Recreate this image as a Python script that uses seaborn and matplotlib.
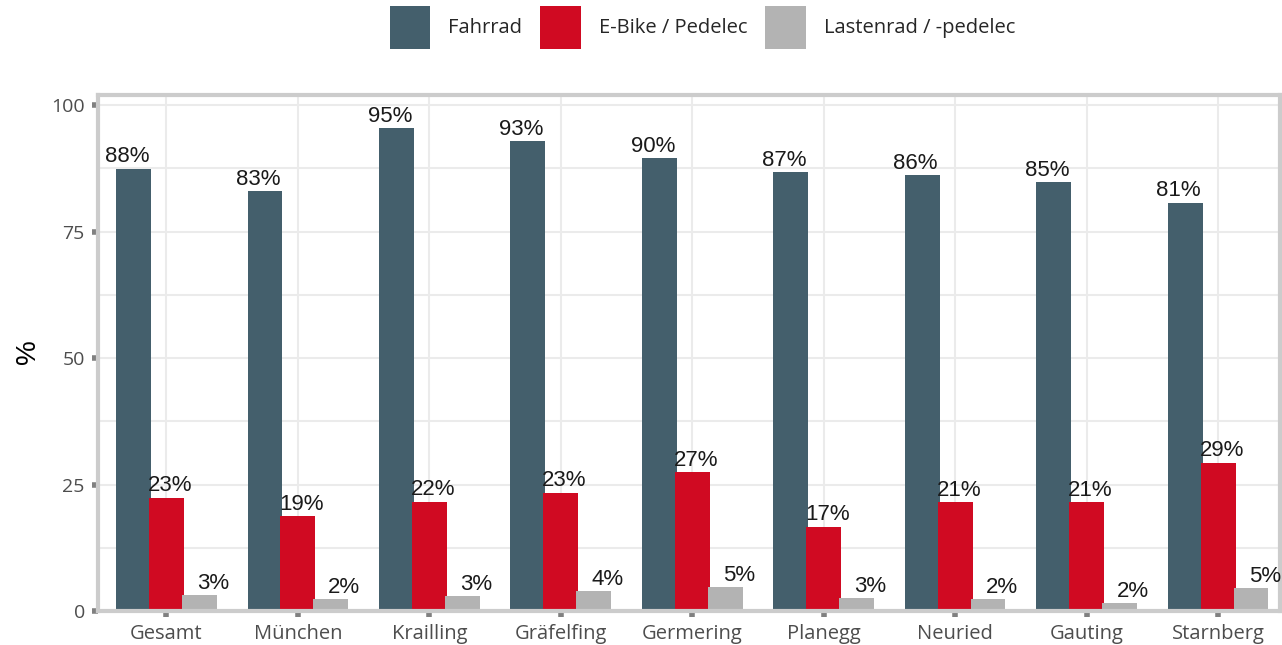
#!/usr/bin/env python3
# -*- coding: utf-8 -*-
"""Anteil der Radtypen je Ort - gruppiertes Balkendiagramm."""

import pandas as pd
import matplotlib
matplotlib.use('Agg')
import matplotlib.pyplot as plt
from matplotlib.patches import Patch
from matplotlib.ticker import MultipleLocator
import seaborn as sns

# Daten
orte = ['Gesamt', 'München', 'Krailling', 'Gräfelfing', 'Germering',
        'Planegg', 'Neuried', 'Gauting', 'Starnberg']
typen = ['Fahrrad', 'E-Bike / Pedelec', 'Lastenrad / -pedelec']
fahrrad = [87.4, 83.0, 95.4, 92.9, 89.5, 86.8, 86.2, 84.8, 80.7]
ebike = [22.4, 18.7, 21.6, 23.4, 27.4, 16.7, 21.5, 21.5, 29.3]
lasten = [3.1, 2.3, 2.9, 3.9, 4.7, 2.5, 2.3, 1.5, 4.5]
# beschriftete Werte (gerundet wie im Original)
fahrrad_lbl = [88, 83, 95, 93, 90, 87, 86, 85, 81]
ebike_lbl = [23, 19, 22, 23, 27, 17, 21, 21, 29]
lasten_lbl = [3, 2, 3, 4, 5, 3, 2, 2, 5]
y_ticks = [0, 25, 50, 75, 100]

farben = {'Fahrrad': '#445F6C',
          'E-Bike / Pedelec': '#D00A22',
          'Lastenrad / -pedelec': '#B3B3B3'}

# Tabelle fuer seaborn
df = pd.DataFrame({
    'ort': orte * 3,
    'typ': [t for t in typen for _ in orte],
    'anteil': fahrrad + ebike + lasten,
})
labels = [fahrrad_lbl, ebike_lbl, lasten_lbl]

sns.set_style('white')
plt.rcParams['font.family'] = ['Liberation Sans', 'DejaVu Sans']

fig = plt.figure(figsize=(12.82, 6.45), dpi=100)
ax = fig.add_axes([0.0764, 0.0527, 0.922, 0.80])

sns.barplot(data=df, x='ort', y='anteil', hue='typ', hue_order=typen,
            palette=farben, width=0.75, saturation=1, errorbar=None,
            legend=False, ax=ax, zorder=2, linewidth=0)

# Balken leicht verbreitern (ueberlappen im Original)
for p in ax.patches:
    p.set_x(p.get_x() - 0.0075)
    p.set_width(p.get_width() + 0.015)
    p.set_edgecolor('none')

# Werte ueber den Balken
for j, (werte, lbl) in enumerate(zip([fahrrad, ebike, lasten], labels)):
    for i, (w, l) in enumerate(zip(werte, lbl)):
        ax.annotate(f'{l}%', xy=(i + (j - 1) * 0.327 + 0.027, w),
                    xytext=(0, 1), textcoords='offset points',
                    ha='center', va='bottom', fontsize=16,
                    color='#1A1A1A', zorder=3)

# Achsen
ax.set_xlim(-0.52, 8.47)
ax.set_ylim(0, 102)
ax.set_yticks(y_ticks)
ax.yaxis.set_minor_locator(MultipleLocator(12.5))
ax.set_xlabel('')
ax.set_ylabel('')
fig.text(28 / 1282, 1 - 352 / 645, '%', rotation=90, fontsize=20,
         color='black', ha='center', va='center')

ax.set_axisbelow(True)
ax.grid(which='both', axis='y', color='#EBEBEB', lw=1.5)
ax.grid(which='major', axis='x', color='#EBEBEB', lw=1.5)

for s in ax.spines.values():
    s.set_visible(True)
    s.set_color('#CCCCCC')
    s.set_linewidth(3)

ax.tick_params(which='major', length=4.5, width=4, color='#808080',
               labelcolor='#4D4D4D', left=True, bottom=True)
ax.tick_params(axis='y', labelsize=14, pad=5)
ax.tick_params(axis='x', labelsize=14.5, pad=4.5)
ax.tick_params(which='minor', length=0)
for t in ax.get_xticklabels() + ax.get_yticklabels():
    t.set_fontfamily('Open Sans')

# Legende oben
handles = [Patch(facecolor=farben[t], edgecolor='none') for t in typen]
fig.legend(handles, typen, loc='center', bbox_to_anchor=(0.548, 0.958),
           ncol=3, frameon=False, handlelength=2.0, handleheight=2.9,
           handletextpad=0.9, columnspacing=0.9,
           prop={'family': 'Open Sans', 'size': 14.5})

fig.savefig('out.png', dpi=100)
